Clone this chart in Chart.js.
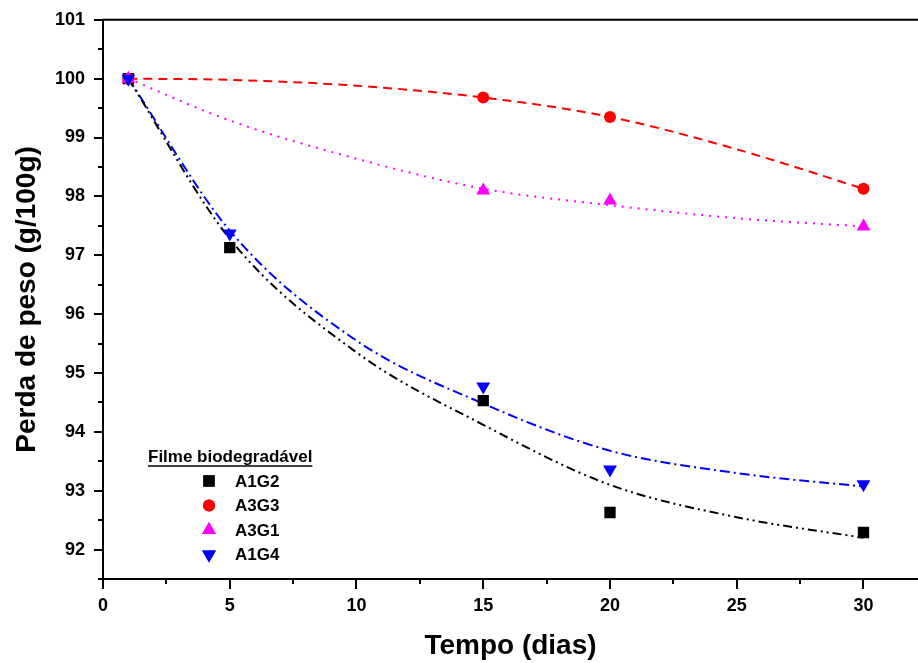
<!DOCTYPE html>
<html>
<head>
<meta charset="utf-8">
<script src="https://cdn.jsdelivr.net/npm/chart.js@4"></script>
<style>
  html, body { margin: 0; padding: 0; background: #fff; }
  #wrap { width: 918px; height: 663px; }
</style>
</head>
<body>
<div id="wrap"><canvas id="chart"></canvas></div>
<script>
// measured points
const daysAll = [1, 5, 15, 20, 30];
const daysRed = [1, 15, 20, 30];
const a1g2 = [100, 97.13, 94.53, 92.63, 92.29];
const a3g3 = [100, 99.68, 99.35, 98.13];
const a3g1 = [100, 98.10, 97.93, 97.49];
const a1g4 = [100, 97.37, 94.77, 93.36, 93.11];

// fitted curves
const fitDays = [1, 5, 10, 15, 20, 25, 30];
const fitA1G2 = [100, 97.28, 95.35, 94.12, 93.10, 92.55, 92.20];
const fitA3G3 = [100, 99.98, 99.88, 99.68, 99.35, 98.80, 98.13];
const fitA3G1 = [100, 99.29, 98.64, 98.13, 97.85, 97.63, 97.49];
const fitA1G4 = [100, 97.42, 95.55, 94.48, 93.68, 93.30, 93.07];

const xTicks = [0, 5, 10, 15, 20, 25, 30];
const yTicks = [92, 93, 94, 95, 96, 97, 98, 99, 100, 101];
const legendTitle = 'Filme biodegradável';

const FONT = '"Liberation Sans", Arial, sans-serif';

const pts = (xs, ys) => xs.map((x, i) => ({ x: x, y: ys[i] }));

function markerSet(label, xs, ys, color, style, radius, rotation, order) {
  return {
    label: label, data: pts(xs, ys), showLine: false,
    pointStyle: style, pointRadius: radius, pointRotation: rotation,
    backgroundColor: color, borderColor: color, pointBorderWidth: 0,
    order: order
  };
}
function fitSet(xs, ys, color, dash) {
  return {
    label: '', data: pts(xs, ys), showLine: true, pointRadius: 0,
    borderColor: color, borderWidth: 2, borderDash: dash,
    cubicInterpolationMode: 'monotone', fill: false, order: 10
  };
}

const markers = [
  markerSet('A1G2', daysAll, a1g2, '#000000', 'rect', 8, 0, 4),
  markerSet('A3G3', daysRed, a3g3, '#ff0000', 'circle', 6, 0, 3),
  markerSet('A3G1', daysRed, a3g1, '#ff00ff', 'triangle', 8, 0, 2),
  markerSet('A1G4', daysAll, a1g4, '#0000ff', 'triangle', 8, 180, 1)
];
const fits = [
  fitSet(fitDays, fitA1G2, '#000000', [9, 4, 2, 4, 2, 4]),
  fitSet(fitDays, fitA3G3, '#ff0000', [9, 6]),
  fitSet(fitDays, fitA3G1, '#ff00ff', [2, 6]),
  fitSet(fitDays, fitA1G4, '#0000ff', [10, 4, 2, 4])
];

const frame = {
  id: 'frame',
  afterDraw(chart) {
    const { ctx, chartArea: a, scales: { x, y } } = chart;
    ctx.save();
    ctx.strokeStyle = '#000';
    ctx.lineWidth = 2;
    ctx.beginPath();
    ctx.moveTo(a.left - 1, a.top);
    ctx.lineTo(chart.width, a.top);
    ctx.stroke();
    ctx.beginPath();
    for (let v = 0; v <= x.max; v += 2.5) {
      const px = Math.round(x.getPixelForValue(v));
      const len = v % 5 === 0 ? 10 : 5;
      ctx.moveTo(px, a.bottom);
      ctx.lineTo(px, a.bottom + len);
    }
    for (let v = y.min; v <= y.max + 0.001; v += 0.5) {
      const py = Math.round(y.getPixelForValue(v));
      const len = Math.abs(v - Math.round(v)) < 0.01 ? 9 : 5;
      ctx.moveTo(a.left, py);
      ctx.lineTo(a.left - len, py);
    }
    ctx.stroke();

    // legend inside plot
    const lx = 148, ly = 462;
    ctx.fillStyle = '#000';
    ctx.font = 'bold 17px ' + FONT;
    ctx.textBaseline = 'alphabetic';
    ctx.fillText(legendTitle, lx, ly);
    const tw = ctx.measureText(legendTitle).width;
    ctx.lineWidth = 1.5;
    ctx.beginPath();
    ctx.moveTo(lx, ly + 4);
    ctx.lineTo(lx + tw, ly + 4);
    ctx.stroke();
    ctx.textBaseline = 'middle';
    markers.forEach((ds, i) => {
      const cy = 481 + i * 24.5;
      ctx.fillStyle = ds.backgroundColor;
      ctx.beginPath();
      Chart.helpers.drawPoint(ctx, {
        pointStyle: ds.pointStyle, radius: ds.pointRadius, rotation: ds.pointRotation, borderWidth: 0
      }, 209, cy);
      ctx.fill();
      ctx.fillStyle = '#000';
      ctx.fillText(ds.label, 235, cy + 1);
    });
    ctx.restore();
  }
};

new Chart(document.getElementById('chart'), {
  type: 'scatter',
  data: { datasets: fits.concat(markers) },
  options: {
    responsive: true,
    maintainAspectRatio: false,
    animation: false,
    layout: { autoPadding: false, padding: { top: 19, right: 0, left: 0, bottom: 0 } },
    plugins: { legend: { display: false }, tooltip: { enabled: false } },
    scales: {
      x: {
        type: 'linear', min: 0, max: 32.15,
        afterFit(s) { s.height = 84; },
        afterBuildTicks(s) { s.ticks = xTicks.map(v => ({ value: v })); },
        grid: { display: true, drawOnChartArea: false, drawTicks: true, tickLength: 10, tickColor: 'rgba(0,0,0,0)' },
        border: { display: true, color: '#000', width: 2 },
        ticks: { color: '#000', padding: 6, maxRotation: 0, font: { family: FONT, size: 18, weight: 'bold' } },
        title: { display: true, text: 'Tempo (dias)', color: '#000', padding: { top: 0, bottom: 0 },
          font: { family: FONT, size: 28, weight: 'bold' } }
      },
      y: {
        type: 'linear', min: 91.5, max: 101,
        afterFit(s) { s.width = 103; },
        afterBuildTicks(s) { s.ticks = yTicks.map(v => ({ value: v })); },
        grid: { display: true, drawOnChartArea: false, drawTicks: true, tickLength: 9, tickColor: 'rgba(0,0,0,0)' },
        border: { display: true, color: '#000', width: 2 },
        ticks: { color: '#000', padding: 9, font: { family: FONT, size: 18, weight: 'bold' } },
        title: { display: true, text: 'Perda de peso (g/100g)', color: '#000', padding: { top: 10, bottom: 0 },
          font: { family: FONT, size: 28, weight: 'bold' } }
      }
    }
  },
  plugins: [frame]
});
</script>
</body>
</html>
